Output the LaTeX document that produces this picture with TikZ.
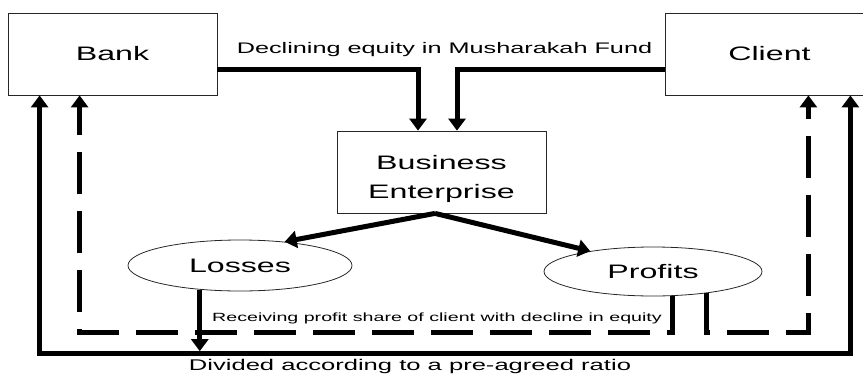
\documentclass[tikz,border=0pt]{standalone}
\usepackage{fontspec}
\setmainfont{Liberation Sans}
\usepackage{graphicx}
\usetikzlibrary{arrows.meta,shapes.geometric}
\newcommand{\sx}[1]{\scalebox{1.65}[1]{#1}}
\begin{document}
\begin{tikzpicture}[x=1pt,y=-1pt,
  box/.style={draw=black!85,line width=0.8pt,rectangle,inner sep=0pt,minimum width=209pt,minimum height=82pt},
  oval/.style={draw=black!85,line width=0.8pt,ellipse,inner sep=0pt},
  bigtext/.style={font=\fontsize{19.5}{29}\selectfont},
  flow/.style={line width=5pt,-{Triangle[width=17pt,length=12pt]}},
  dflow/.style={line width=5pt,dash pattern=on 42pt off 17pt,-{Triangle[width=17pt,length=12pt]}},
  both/.style={line width=5pt,{Triangle[width=17pt,length=12pt]}-{Triangle[width=17pt,length=12pt]}}
]
\useasboundingbox (0,0) rectangle (863,383);
\node[box,bigtext] (bank) at (112.5,54) {\sx{Bank}};
\node[box,bigtext] (client) at (769.5,54) {\sx{Client}};
\node[box] (business) at (441.5,172) {};
\node[bigtext,align=center] (businesslabel) at (441.5,178.5) {\sx{Business}\\\sx{Enterprise}};
\node[oval,bigtext,minimum width=224pt,minimum height=51pt] (losses) at (240,265.5) {\sx{Losses}};
\node[oval,bigtext,minimum width=218pt,minimum height=49pt] (profits) at (653,271.5) {\sx{Profits}};
\coordinate (dl) at (0,332);
% top inflows
\draw[flow] ([yshift=-15pt]bank.east) -| ([xshift=-23.5pt]business.north);
\draw[flow] ([yshift=-15pt]client.west) -| ([xshift=15.5pt]business.north);
% outcomes
\draw[flow] ([xshift=-6.5pt]business.south) -- (losses.28);
\draw[flow] ([xshift=-6.5pt]business.south) -- (profits.162);
% bottom division line
\draw[both] ([xshift=32pt]bank.south west) -- ++(0,258) -| ([xshift=-24pt]client.south east);
\draw[flow] (losses.211.5) -- ++(0,61.5);
% dashed profit shares
\draw[dflow] (profits.309) -- (profits.309 |- dl) -| ([xshift=72pt]bank.south west);
\draw[dflow] (profits.338) -- (profits.338 |- dl) -| ([xshift=-66pt]client.south east);
% labels
\node[font=\fontsize{15.3}{18}\selectfont,anchor=base] (declining) at (444.5,53.5) {\sx{Declining equity in Musharakah Fund}};
\node[font=\fontsize{11.9}{14}\selectfont,anchor=base] (receiving) at (437,321) {\sx{Receiving profit share of client with decline in equity}};
\node[font=\fontsize{15.5}{18}\selectfont,anchor=base] (divided) at (410,370) {\sx{Divided according to a pre-agreed ratio}};
\end{tikzpicture}
\end{document}
